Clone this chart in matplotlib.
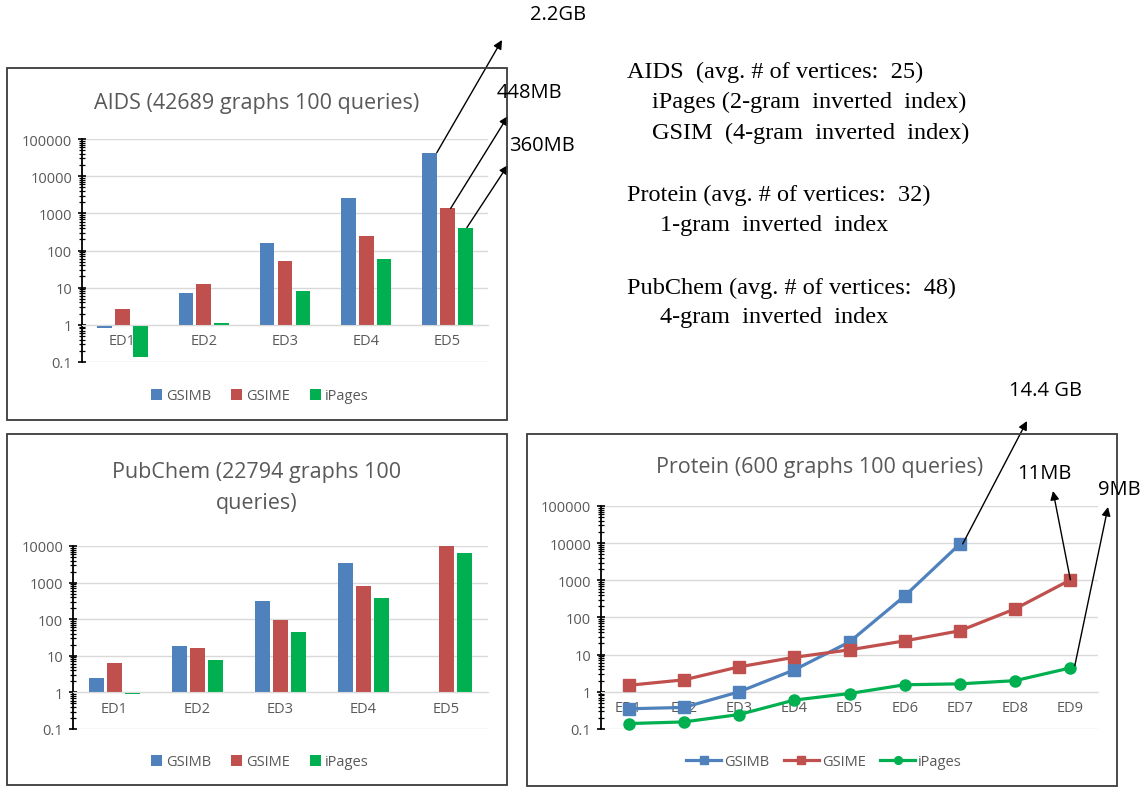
import numpy as np
import matplotlib
matplotlib.use('Agg')
import matplotlib.pyplot as plt
from matplotlib.patches import Rectangle
from matplotlib.ticker import FixedLocator, FuncFormatter, NullFormatter

# data
series = ['GSIMB', 'GSIME', 'iPages']
ed5 = ['ED1', 'ED2', 'ED3', 'ED4', 'ED5']
ed9 = ['ED1', 'ED2', 'ED3', 'ED4', 'ED5', 'ED6', 'ED7', 'ED8', 'ED9']

aids_gsimb = [0.8, 7.2, 155, 2550, 43000]
aids_gsime = [2.7, 12.8, 51, 240, 1360]
aids_ipages = [0.135, 1.09, 8.3, 58, 414]

pub_gsimb = [2.4, 18.5, 316, 3450, np.nan]
pub_gsime = [6.3, 16.2, 96, 810, 10000]
pub_ipages = [0.93, 7.6, 44, 375, 6300]

prot_gsimb = [0.35, 0.38, 1.0, 3.9, 22, 380, 9550, np.nan, np.nan]
prot_gsime = [1.5, 2.1, 4.7, 8.5, 13.5, 23.5, 44, 171, 1030]
prot_ipages = [0.14, 0.155, 0.245, 0.6, 0.9, 1.55, 1.64, 2.0, 4.4]

notes = [
    'AIDS  (avg. # of vertices:  25)',
    'iPages (2-gram  inverted  index)',
    'GSIM  (4-gram  inverted  index)',
    'Protein (avg. # of vertices:  32)',
    '1-gram  inverted  index',
    'PubChem (avg. # of vertices:  48)',
    '4-gram  inverted  index',
]

colors = ['#4F81BD', '#C0504D', '#00B050']
gray = '#595959'
grid_c = '#D9D9D9'
W, H = 1148, 803
sans = ['Open Sans', 'DejaVu Sans']

plt.rcParams['font.family'] = sans

fig = plt.figure(figsize=(W / 100, H / 100), dpi=100)
fig.patch.set_facecolor('white')


def px_axes(x0, y_top, x1, y_bot):
    return fig.add_axes([x0 / W, 1 - y_bot / H, (x1 - x0) / W, (y_bot - y_top) / H])


def fpos(x, y):
    return (x / W, 1 - y / H)


def box(x0, y0, x1, y1):
    fig.patches.append(Rectangle(fpos(x0, y1), (x1 - x0) / W, (y1 - y0) / H,
                                 transform=fig.transFigure, fill=False,
                                 edgecolor='#3A3A3A', lw=1.3))


def style_axis(ax, cats, ymax):
    ax.set_yscale('log')
    ax.set_ylim(0.1, ymax)
    ax.set_xlim(-0.5, len(cats) - 0.5)
    ax.set_xticks(range(len(cats)))
    ax.set_xticklabels(cats)
    top = int(round(np.log10(ymax)))
    majors = [10.0 ** k for k in range(-1, top + 1)]
    minors = [m * 10.0 ** k for k in range(-1, top) for m in range(2, 10)]
    ax.yaxis.set_major_locator(FixedLocator(majors))
    ax.yaxis.set_major_formatter(FuncFormatter(lambda v, _: f'{v:g}'))
    ax.yaxis.set_minor_locator(FixedLocator(minors))
    ax.yaxis.set_minor_formatter(NullFormatter())
    ax.tick_params(axis='y', which='major', direction='inout', length=6, width=1.2,
                   colors='black', labelcolor=gray, labelsize=10.5, pad=4)
    ax.tick_params(axis='y', which='minor', direction='inout', length=4.5, width=0.9,
                   colors='black')
    ax.tick_params(axis='x', which='both', length=0, labelcolor=gray, labelsize=10.5, pad=6)
    ax.spines['top'].set_visible(False)
    ax.spines['right'].set_visible(False)
    ax.spines['bottom'].set_position(('data', 1))
    ax.spines['bottom'].set_color(grid_c)
    ax.spines['left'].set_color('black')
    ax.spines['left'].set_linewidth(1.3)
    ax.grid(axis='y', which='major', color=grid_c, lw=1)
    ax.grid(axis='y', which='minor', visible=False)
    ax.set_axisbelow(True)


def bar_chart(ax, vals, cats, ymax):
    x = np.arange(len(cats))
    handles = []
    for i, v in enumerate(vals):
        v = np.array(v, dtype=float)
        b = ax.bar(x + (i - 1) * 0.22, v - 1, bottom=1, width=0.18,
                   color=colors[i], label=series[i])
        handles.append(b)
    style_axis(ax, cats, ymax)
    return handles


# AIDS
box(7, 69, 507, 421)
ax1 = px_axes(82, 140, 488, 363)
h1 = bar_chart(ax1, [aids_gsimb, aids_gsime, aids_ipages], ed5, 100000)
fig.text(*fpos(257, 103), 'AIDS (42689 graphs 100 queries)', ha='center', va='center',
         fontsize=15.5, color=gray)
fig.legend(handles=h1, loc='center', bbox_to_anchor=fpos(260, 397), ncol=3, frameon=False,
           fontsize=10.5, labelcolor=gray, handlelength=0.7, handleheight=0.7,
           handletextpad=0.3, columnspacing=1.4)

# PubChem
box(7, 435, 507, 786)
ax2 = px_axes(73, 547, 488, 730)
h2 = bar_chart(ax2, [pub_gsimb, pub_gsime, pub_ipages], ed5, 10000)
fig.text(*fpos(257, 488), 'PubChem (22794 graphs 100\nqueries)', ha='center', va='center',
         fontsize=15.5, color=gray, linespacing=1.6)
fig.legend(handles=h2, loc='center', bbox_to_anchor=fpos(260, 763), ncol=3, frameon=False,
           fontsize=10.5, labelcolor=gray, handlelength=0.7, handleheight=0.7,
           handletextpad=0.3, columnspacing=1.4)

# Protein
box(527, 435, 1117, 787)
ax3 = px_axes(601, 507, 1098, 730)
x9 = np.arange(len(ed9))
markers = ['s', 's', 'o']
msizes = [8.5, 8.5, 8]
h3 = []
for i, v in enumerate([prot_gsimb, prot_gsime, prot_ipages]):
    ln, = ax3.plot(x9, v, color=colors[i], lw=2.3, marker=markers[i], ms=msizes[i],
                   label=series[i], clip_on=False, zorder=3)
    h3.append(ln)
style_axis(ax3, ed9, 100000)
fig.text(*fpos(820, 468), 'Protein (600 graphs 100 queries)', ha='center', va='center',
         fontsize=15.5, color=gray)
fig.legend(handles=h3, loc='center', bbox_to_anchor=fpos(824, 763), ncol=3, frameon=False,
           fontsize=10.5, labelcolor=gray, handlelength=2.4, handletextpad=0.2,
           columnspacing=1.0, markerscale=0.7)

# size call-outs: tail at the data, head out in the free space
arrow = dict(arrowstyle='-|>', color='black', lw=1, mutation_scale=13, shrinkA=0, shrinkB=0)
callouts = [
    (ax1, (3.87, aids_gsimb[4]), (502, 41), '2.2GB', (530, 15)),
    (ax1, (4.04, aids_gsime[4]), (508, 117), '448MB', (497, 93)),
    (ax1, (4.24, aids_ipages[4]), (508, 166), '360MB', (509, 146)),
    (ax3, (6.05, prot_gsimb[6]), (1027, 422), '14.4 GB', (1009, 391)),
    (ax3, (8.0, prot_gsime[8]), (1053, 492), '11MB', (1017, 474)),
    (ax3, (8.08, prot_ipages[8] * 1.15), (1108, 508), '9MB', (1098, 490)),
]
for ax, tail, head, label, tpos in callouts:
    ax.annotate('', xy=fpos(*head), xycoords='figure fraction',
                xytext=tail, textcoords='data', arrowprops=arrow, annotation_clip=False)
    fig.text(*fpos(*tpos), label, ha='left', va='center', fontsize=14.5, color='black')

# side notes
note_pos = [(627, 72), (652, 102), (652, 133), (627, 195), (660, 225), (627, 288), (660, 318)]
for txt, (nx, ny) in zip(notes, note_pos):
    fig.text(*fpos(nx, ny), txt, ha='left', va='center', fontsize=17.5,
             family=['Liberation Serif', 'DejaVu Serif'], color='black')

fig.savefig('out.png', dpi=100)
